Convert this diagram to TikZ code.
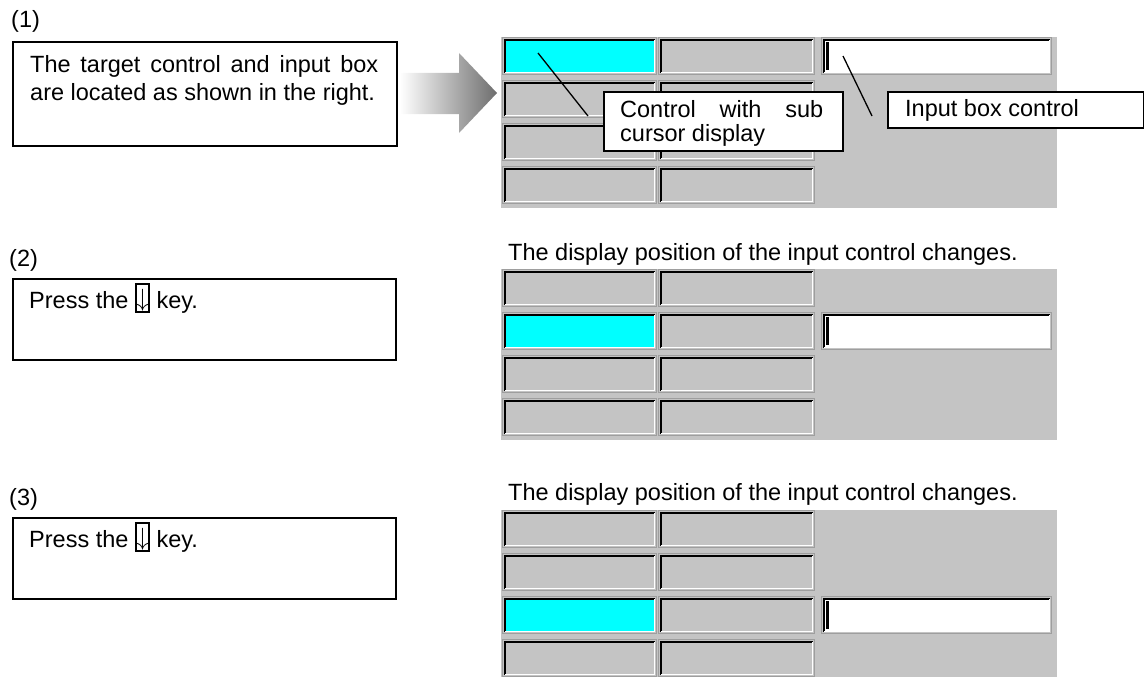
\documentclass[tikz,border=0pt]{standalone}
\usepackage{fontspec}
\setmainfont{Liberation Sans}
\usetikzlibrary{positioning}
\definecolor{panelgray}{RGB}{196,196,196}
\definecolor{selcyan}{RGB}{0,255,255}
\newcommand{\downkey}{{\setlength{\fboxrule}{2pt}\setlength{\fboxsep}{0pt}%
  \fbox{\raisebox{2pt}[23pt][3pt]{\makebox[11pt]{$\downarrow$}}}}}
% sunken control: x1, y1 (top), x2, fill
\newcommand{\winbox}[4]{%
  \fill[#4] (#1,#2) rectangle (#3,#2+34);
  \draw[black!38, line width=0.8pt] (#1-1.3,#2-1.3) rectangle (#3+1.3,#2+35.3);
  \draw[black, line width=1.8pt] (#1+0.9,#2+34) -- (#1+0.9,#2+0.9) -- (#3,#2+0.9);
  \draw[white, line width=1.4pt] (#1+0.9,#2+33.3) -- (#3-0.7,#2+33.3) -- (#3-0.7,#2+0.9);
}

\begin{document}
\begin{tikzpicture}[x=1pt,y=-1pt,
    txt/.style={font=\fontsize{23.5}{28}\selectfont, inner sep=0pt},
    frame/.style={draw, line width=1.6pt, fill=white, inner sep=0pt, anchor=north west},
    lead/.style={line width=1.3pt}]
  \useasboundingbox (0,0) rectangle (1144,677);
  \clip (0,0) rectangle (1144,677);

  % Step (1)
  \node[txt, anchor=base west] (lab1) at (11,28) {(1)};
  \node[frame, minimum width=384, minimum height=104] (box1) at (12,41) {};
  \node[txt, anchor=north west, align=left] (msg1) at (30,55)
    {\makebox[348pt][s]{The target control and input box}\\are located as shown in the right.};

  % Step (2)
  \node[txt, anchor=base west] (lab2) at (9,266) {(2)};
  \node[frame, minimum width=383, minimum height=81] (box2) at (12,278) {};
  \node[txt, anchor=base west] (msg2) at (29,308) {Press the \downkey{} key.};

  % Step (3)
  \node[txt, anchor=base west] (lab3) at (9,505) {(3)};
  \node[frame, minimum width=383, minimum height=81] (box3) at (12,517) {};
  \node[txt, anchor=base west] (msg3) at (29,547) {Press the \downkey{} key.};

  % Arrow
  \shade[left color=white, right color=black!57]
    (400,73) -- (459,73) -- (459,53) -- (497,93) -- (459,133) -- (459,114) -- (400,114) -- cycle;

  % Screens
  \foreach \py/\hl in {37/0, 269/1, 510/2} {
    \fill[panelgray] (501,\py) rectangle (1057,\py+171);
    \foreach \r in {0,...,3} {
      \pgfmathsetmacro{\yt}{\py+2+43*\r}
      \ifnum\r=\hl \def\fc{selcyan}\else\def\fc{panelgray}\fi
      \winbox{504}{\yt}{655}{\fc}
      \winbox{660}{\yt}{813}{panelgray}
    }
    \pgfmathsetmacro{\yi}{\py+2+43*\hl}
    \winbox{823}{\yi}{1050}{white}
    \fill (825.5,\yi+3) rectangle (828.5,\yi+31);
  }
  \node[txt, anchor=base west] (title2) at (508,260) {The display position of the input control changes.};
  \node[txt, anchor=base west] (title3) at (508,500) {The display position of the input control changes.};

  % Callouts
  \coordinate (selTip) at (538,53);
  \coordinate (selEnd) at (588,116);
  \coordinate (inpTip) at (843,56);
  \coordinate (inpEnd) at (872,116);
  \draw[lead] (selTip) -- (selEnd);
  \draw[lead] (inpTip) -- (inpEnd);
  \node[frame, minimum width=239, minimum height=59] (noteSel) at (603,91) {};
  \node[txt, font=\fontsize{23.5}{24}\selectfont, anchor=north west, align=left] (noteSelTxt) at (620,100)
    {\makebox[203pt][s]{Control with sub}\\cursor display};
  \node[frame, minimum width=256, minimum height=36] (noteInp) at (887,91) {};
  \node[txt, anchor=base west] (noteInpTxt) at (905,117) {Input box control};
\end{tikzpicture}
\end{document}
